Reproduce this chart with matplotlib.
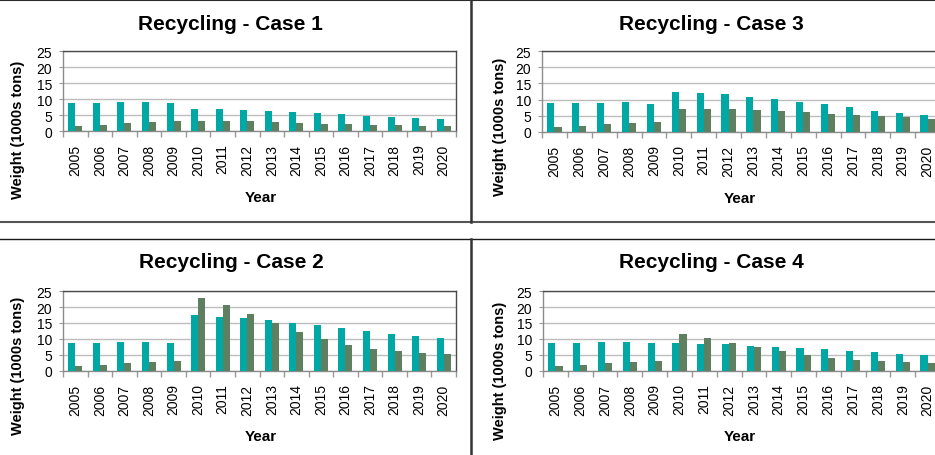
import numpy as np
import matplotlib.pyplot as plt
from matplotlib.lines import Line2D
from matplotlib.ticker import FixedLocator, NullFormatter

plt.rcParams['font.family'] = ['Liberation Sans', 'DejaVu Sans']

years = [str(y) for y in range(2005, 2021)]

# teal series (first bar of each pair) and green series (second bar)
case1_teal = [8.8, 8.85, 9.05, 9.15, 8.6, 7.0, 6.8, 6.6, 6.25, 5.9, 5.6, 5.3, 4.8, 4.4, 4.1, 3.75]
case1_green = [1.6, 2.0, 2.45, 2.85, 3.2, 3.2, 3.1, 3.0, 2.8, 2.6, 2.3, 2.1, 1.9, 1.8, 1.65, 1.55]

case2_teal = [8.8, 8.85, 9.05, 9.15, 8.6, 17.4, 16.9, 16.5, 16.0, 15.1, 14.3, 13.5, 12.55, 11.6, 10.8, 10.35]
case2_green = [1.6, 2.0, 2.45, 2.85, 3.2, 22.9, 20.7, 17.9, 15.1, 12.3, 9.9, 8.05, 6.9, 6.2, 5.75, 5.3]

case3_teal = [8.8, 8.85, 9.05, 9.15, 8.6, 12.4, 12.1, 11.7, 10.95, 10.2, 9.4, 8.6, 7.65, 6.6, 5.8, 5.3]
case3_green = [1.6, 2.0, 2.45, 2.85, 3.2, 7.0, 7.1, 7.1, 6.8, 6.5, 6.1, 5.6, 5.3, 5.0, 4.65, 4.1]

case4_teal = [8.8, 8.85, 9.05, 9.15, 8.6, 8.7, 8.5, 8.3, 7.95, 7.5, 7.2, 6.8, 6.3, 5.85, 5.45, 5.1]
case4_green = [1.6, 2.0, 2.45, 2.85, 3.2, 11.5, 10.35, 8.9, 7.5, 6.3, 5.0, 4.0, 3.45, 3.15, 2.8, 2.6]

W, H = 935, 456
fig = plt.figure(figsize=(W / 100, H / 100), dpi=100)
fig.patch.set_facecolor('white')

TEAL = '#00A8A5'
GREEN = '#5E7F60'


def fx(px):
    return px / W


def fy(py):
    return 1 - py / H


def panel(title, teal, green, box, title_xy, xlab_xy, ylab_xy):
    l, t, r, b = box
    ax = fig.add_axes([fx(l), fy(b), fx(r - l), (b - t) / H])
    x = np.arange(len(years))
    w = 0.286
    ax.bar(x - w / 2, teal, w, color=TEAL, zorder=3)
    ax.bar(x + w / 2, green, w, color=GREEN, zorder=3)
    ax.set_xlim(-0.5, len(years) - 0.5)
    ax.set_ylim(0, 25)
    ax.set_yticks([0, 5, 10, 15, 20, 25])
    ax.yaxis.grid(True, color='#BDBDBD', lw=1.0, zorder=0)
    ax.set_xticks(x)
    ax.set_xticklabels(years, rotation=90, fontsize=10)
    ax.xaxis.set_minor_locator(FixedLocator(np.arange(-0.5, len(years), 1.0)))
    ax.xaxis.set_minor_formatter(NullFormatter())
    ax.tick_params(axis='x', which='major', length=0, pad=9)
    ax.tick_params(axis='x', which='minor', length=4, color='#999999', width=1)
    ax.tick_params(axis='y', length=3, color='#999999', labelsize=10, pad=5)
    for s in ['top', 'right']:
        ax.spines[s].set_color('#4A4A4A')
    for s in ['left', 'bottom']:
        ax.spines[s].set_color('#8C8C8C')
    for s in ax.spines.values():
        s.set_linewidth(1.0)
    fig.text(fx(title_xy[0]), fy(title_xy[1]), title, ha='center', va='center',
             fontsize=15, fontweight='bold')
    fig.text(fx(xlab_xy[0]), fy(xlab_xy[1]), 'Year', ha='center', va='center',
             fontsize=11, fontweight='bold')
    fig.text(fx(ylab_xy[0]), fy(ylab_xy[1]), 'Weight (1000s tons)', ha='center',
             va='center', rotation=90, fontsize=10.5, fontweight='bold')
    return ax


panel('Recycling - Case 1', case1_teal, case1_green, (63, 52, 456, 132),
      (230, 25), (261, 198), (18, 130))
panel('Recycling - Case 3', case3_teal, case3_green, (542, 52, 940, 133),
      (711, 25), (740, 199), (500, 127))
panel('Recycling - Case 2', case2_teal, case2_green, (63, 292, 456, 372),
      (231, 263), (261, 437), (18, 366))
panel('Recycling - Case 4', case4_teal, case4_green, (543, 292, 940, 372),
      (711, 263), (740, 437), (500, 371))

# panel frames
def hline(y, x0, x1, c, lw):
    fig.add_artist(Line2D([fx(x0), fx(x1)], [fy(y), fy(y)], color=c, lw=lw))


def vline(x, y0, y1, c, lw):
    fig.add_artist(Line2D([fx(x), fx(x)], [fy(y0), fy(y1)], color=c, lw=lw))


hline(0.8, 0, W, '#2A2A2A', 1.5)
hline(223, 0, W, '#555555', 1.5)
hline(240, 0, W, '#1A1A1A', 1.0)
vline(471, 0, 223, '#333333', 1.8)
vline(471, 240, H, '#333333', 1.8)

fig.savefig('out.png', dpi=100)
